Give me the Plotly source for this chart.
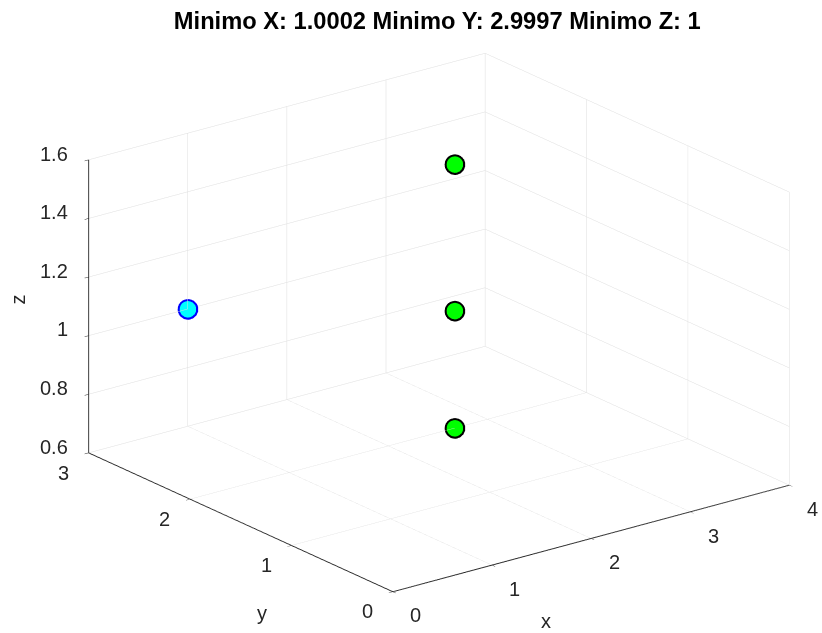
import plotly.graph_objects as go
import math

# Data
best_x = [1.0]
best_y = [3.0]
best_z = [1.0]

pts_x = [2.67, 2.67, 2.67]
pts_y = [2.0, 2.0, 2.0]
pts_z = [1.5, 1.0, 0.6]

x_ticks = [0, 1, 2, 3, 4]
y_ticks = [0, 1, 2, 3]
z_ticks = [0.6, 0.8, 1.0, 1.2, 1.4, 1.6]
z_ticktext = ["0.6", "0.8", "1", "1.2", "1.4", "1.6"]

title_text = "Minimo X: 1.0002 Minimo Y: 2.9997 Minimo Z: 1"

x_range = [0, 4]
y_range = [0, 3]
z_range = [0.6, 1.6]

fig = go.Figure()
# edge (outline) markers drawn first, fill markers on top
fig.add_trace(go.Scatter3d(
    x=pts_x, y=pts_y, z=pts_z, mode="markers",
    marker=dict(size=12, color="black", line=dict(width=0)),
    showlegend=False, hoverinfo="skip"))
fig.add_trace(go.Scatter3d(
    x=best_x, y=best_y, z=best_z, mode="markers",
    marker=dict(size=12, color="rgb(0,0,255)", line=dict(width=0)),
    showlegend=False, hoverinfo="skip"))
fig.add_trace(go.Scatter3d(
    x=pts_x, y=pts_y, z=pts_z, mode="markers",
    marker=dict(size=9.6, color="rgb(0,255,0)", line=dict(width=0)),
    showlegend=False, hoverinfo="skip"))
fig.add_trace(go.Scatter3d(
    x=best_x, y=best_y, z=best_z, mode="markers",
    marker=dict(size=9.6, color="rgb(0,255,255)", line=dict(width=0)),
    showlegend=False, hoverinfo="skip"))

txt_color = "rgb(38,38,38)"
tick_font = dict(family="Liberation Sans, Arial", size=20, color=txt_color)
label_font = dict(family="Liberation Sans, Arial", size=20, color=txt_color)

axis_common = dict(
    showbackground=False,
    gridcolor="rgb(222,222,222)",
    gridwidth=1,
    showline=True,
    linecolor=txt_color,
    linewidth=2,
    zeroline=False,
    ticks="outside",
    tickcolor=txt_color,
    ticklen=5,
    showticklabels=False,
    showspikes=False,
    title=dict(text=""),
)

annotations = []
# z tick labels (on edge x=0, y=max)
for v, t in zip(z_ticks, z_ticktext):
    annotations.append(dict(x=x_range[0], y=y_range[1], z=v, text=t, showarrow=False,
                            xanchor="right", yanchor="middle", xshift=-19, yshift=6, font=tick_font))
# y tick labels (on edge x=0, z=min)
for v in y_ticks:
    annotations.append(dict(x=x_range[0], y=v, z=z_range[0], text=str(v), showarrow=False,
                            xanchor="center", yanchor="middle", xshift=-25, yshift=-20, font=tick_font))
# x tick labels (on edge y=0, z=min)
for v in x_ticks:
    annotations.append(dict(x=v, y=y_range[0], z=z_range[0], text=str(v), showarrow=False,
                            xanchor="center", yanchor="middle", xshift=23, yshift=-24, font=tick_font))
# axis titles
annotations.append(dict(x=x_range[0], y=sum(y_range) / 2, z=z_range[0], text="y", showarrow=False,
                        xanchor="center", yanchor="middle", xshift=21, yshift=-91, font=label_font))
annotations.append(dict(x=sum(x_range) / 2, y=y_range[0], z=z_range[0], text="x", showarrow=False,
                        xanchor="center", yanchor="middle", xshift=-45, yshift=-83, font=label_font))
annotations.append(dict(x=x_range[0], y=y_range[1], z=sum(z_range) / 2, text="z", showarrow=False,
                        textangle=-90, xanchor="center", yanchor="middle", xshift=-70, yshift=6, font=label_font))

el = math.radians(20.5)
az = math.radians(37.5)
r = 1.13
eye = dict(x=-r * math.cos(el) * math.sin(az),
           y=-r * math.cos(el) * math.cos(az),
           z=r * math.sin(el))

s = 1.68
fig.update_layout(
    width=822, height=633,
    margin=dict(l=0, r=0, t=0, b=0),
    paper_bgcolor="white",
    title=dict(text="<b>" + title_text + "</b>", x=0.532, xanchor="center", y=0.968, yanchor="middle",
               font=dict(family="Liberation Sans, Arial", size=23.7, color="black")),
    scene=dict(
        domain=dict(x=[0.068, 1.0], y=[0.021, 0.961]),
        xaxis=dict(axis_common, range=x_range, tickvals=x_ticks),
        yaxis=dict(axis_common, range=y_range, tickvals=y_ticks),
        zaxis=dict(axis_common, range=z_range, tickvals=z_ticks),
        aspectmode="manual",
        aspectratio=dict(x=1 * s, y=1 * s, z=0.626 * s),
        camera=dict(eye=eye, up=dict(x=0, y=0, z=1), center=dict(x=0, y=0, z=0),
                    projection=dict(type="orthographic")),
        annotations=annotations,
    ),
)

fig.write_html("out.html")
